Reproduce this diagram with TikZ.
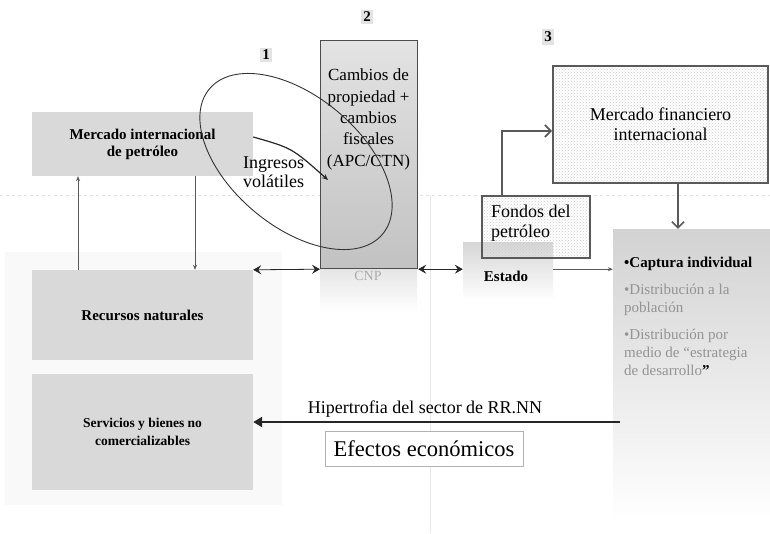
\documentclass[tikz,border=0pt]{standalone}
\usepackage{fontspec}
\setmainfont{Liberation Serif}
\usetikzlibrary{arrows.meta,patterns}
\definecolor{boxgray}{HTML}{D9D9D9}
\definecolor{linegray}{HTML}{5A5A5A}
\begin{document}
\begin{tikzpicture}[x=1pt,y=-1pt,
  graybox/.style={fill=boxgray, draw=none, inner sep=0pt, align=center, font=\fontsize{15}{17}\selectfont\bfseries},
  dotbox/.style={draw=linegray, line width=2pt, pattern=crosshatch dots, pattern color=gray!40, inner sep=0pt},
  numlabel/.style={fill=gray!22, inner sep=2.5pt, font=\fontsize{15}{15}\selectfont\bfseries},
  thinarrow/.style={draw=gray!70!black, line width=0.6pt, -{Stealth[length=5pt,width=4pt]}},
  dblarrow/.style={draw=gray!30!black, line width=0.8pt, {Stealth[length=8pt,width=9pt,inset=3pt]}-{Stealth[length=8pt,width=9pt,inset=3pt]}},
  barbarrow/.style={draw=linegray, line width=1.6pt, -{Straight Barb[length=6pt,width=12pt]}},
  bigarrow/.style={draw=black!85, line width=2.2pt, -{Triangle[length=9pt,width=10pt]}}
]
\useasboundingbox (0,0) rectangle (770,533);
\fill[white] (0,0) rectangle (770,533);
% faint background features
\fill[gray!5] (5,252) rectangle (282,505);
\draw[gray!22, dashed, line width=0.6pt] (0,195) -- (770,195);
\draw[gray!18, line width=0.6pt] (430,195) -- (430,533);

% left column
\node[graybox, minimum width=221pt, minimum height=64pt] (mip) at (142.5,144) {Mercado internacional\\de petróleo};
\node[graybox, minimum width=221pt, minimum height=90pt] (rn) at (142.5,315) {Recursos naturales};
\node[graybox, minimum width=221pt, minimum height=116pt, font=\fontsize{13.5}{18}\selectfont\bfseries] (serv) at (142.5,432) {Servicios y bienes no\\comercializables};

\draw[thinarrow] ([xshift=-64.5pt]rn.north) -- ([xshift=-64.5pt]mip.south);
\draw[thinarrow] ([xshift=52.5pt]mip.south) -- ([xshift=52.5pt]rn.north);

% box 2
\shade[top color=gray!20, bottom color=white] (320,269) rectangle (417,312);
\node[draw=gray!60!black, line width=1.2pt, top color=gray!22, bottom color=gray!48, minimum width=97pt, minimum height=228pt, anchor=north west, inner sep=0pt] (box2) at (320,40) {};
\node[align=center, font=\fontsize{17}{21.3}\selectfont, anchor=north, inner sep=0pt] (t2) at (368.5,69) {Cambios de\\propiedad +\\cambios\\fiscales\\(APC/CTN)};
\node[text=gray!65, font=\fontsize{14}{14}\selectfont, inner sep=0pt] (cnp) at (368,276) {CNP};

% ellipse (1)
\draw[gray!40!black, line width=0.9pt, rotate around={-40:(296,161.5)}] (296,161.5) ellipse [x radius=113pt, y radius=65pt];

% ingresos volatiles
\coordinate (ingend) at (328,180);
\draw[draw=black!85, line width=1.2pt, -{Stealth[length=6pt,width=5pt]}] ([yshift=7pt]mip.east) .. controls (292,148) .. (ingend);
\node[align=left, font=\fontsize{18}{19.5}\selectfont, anchor=west, inner sep=0pt] (ing) at (243,172) {Ingresos\\volátiles};

% numbers
\node[numlabel] (n1) at (266,55) {1};
\node[numlabel] (n2) at (367,17) {2};
\node[numlabel] (n3) at (548,37) {3};

% estado
\node[top color=gray!32, bottom color=white, minimum width=90pt, minimum height=58pt, inner sep=0pt] (estado) at (508,271.5) {};
\node[font=\fontsize{15}{15}\selectfont\bfseries, inner sep=0pt] (estt) at (506,276) {Estado};

% fondos del petroleo
\node[dotbox, minimum width=108pt, minimum height=62pt] (fondos) at (536,227) {};
\node[align=left, anchor=west, font=\fontsize{18}{20}\selectfont, inner sep=0pt] (fondt) at (491,223) {Fondos del\\petróleo};

% mercado financiero
\node[dotbox, minimum width=215pt, minimum height=117pt, align=center, font=\fontsize{18}{20}\selectfont] (mfi) at (660.5,124.5) {Mercado financiero\\internacional};

% right box
\node[top color=gray!35, bottom color=white, minimum width=157pt, minimum height=291pt, inner sep=0pt] (rb) at (691.5,374.5) {};
\node[anchor=north west, align=left, font=\fontsize{15}{18}\selectfont, inner sep=0pt] (rbt) at (624,257) {{\bfseries •Captura individual}\\[9pt]
{\color{gray!85}•Distribución a la}\\{\color{gray!85}población}\\[9pt]
{\color{gray!85}•Distribución por}\\{\color{gray!85}medio de “estrategia}\\{\color{gray!85}de desarrollo}{\bfseries ”}};

% connectors
\draw[dblarrow] (rn.north east) -- (box2.south west);
\draw[dblarrow] (box2.south east) -- (box2.south east -| estado.west);
\draw[thinarrow] (estado.east |- box2.south east) -- (box2.south east -| rb.west);
\draw[barbarrow] ([xshift=-34pt]fondos.north) |- ([yshift=-6.5pt]mfi.west);
\draw[barbarrow] ([xshift=17.5pt]mfi.south) -- ([xshift=17.5pt]mfi.south |- rb.north);

% hipertrofia
\coordinate (hipstart) at (620,422);
\draw[bigarrow] (hipstart) -- (serv.east |- hipstart);
\node[font=\fontsize{18}{18}\selectfont, inner sep=0pt] (hip) at (425,409) {Hipertrofia del sector de RR.NN};
\node[draw=gray!60, line width=0.8pt, fill=white, minimum width=198pt, minimum height=35pt, font=\fontsize{22.5}{24}\selectfont, inner sep=0pt] (efe) at (424,449) {Efectos económicos};
\end{tikzpicture}
\end{document}
